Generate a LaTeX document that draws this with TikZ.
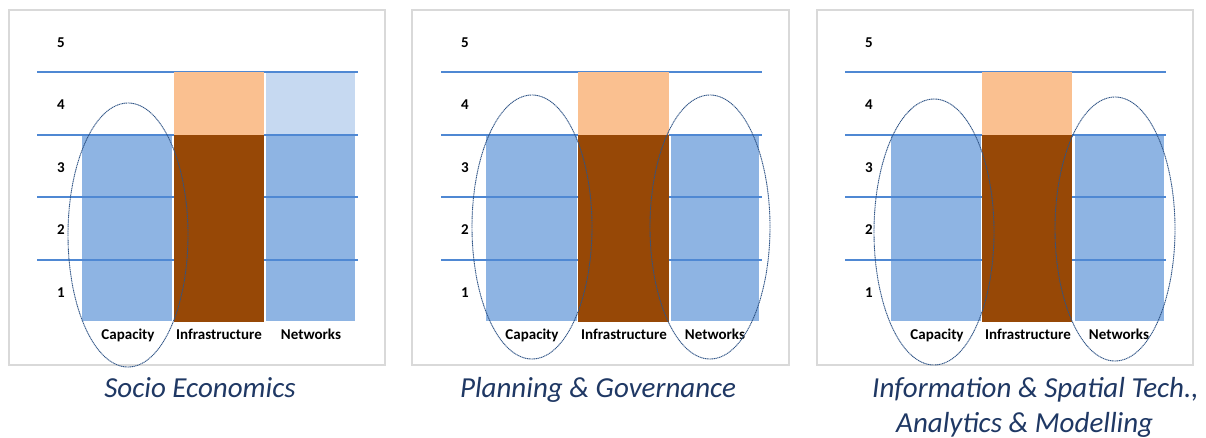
\documentclass[tikz,border=0pt]{standalone}
\usepackage{fontspec}
\setmainfont{Carlito}
\definecolor{barblue}{HTML}{8EB4E3}
\definecolor{lightblue}{HTML}{C6D9F1}
\definecolor{infbrown}{HTML}{974806}
\definecolor{peach}{HTML}{FAC090}
\definecolor{lineblue}{HTML}{4F88D3}
\definecolor{framegray}{HTML}{D9D9D9}
\definecolor{captionblue}{HTML}{1F3864}
\definecolor{ellblue}{HTML}{2F5486}
\begin{document}
\begin{tikzpicture}[x=1pt,y=-1pt,
  frame/.style={draw=framegray,line width=2.4pt,fill=white},
  level/.style={draw=lineblue,line width=2.8pt},
  num/.style={font=\fontsize{15}{17}\selectfont\bfseries,anchor=base,inner sep=0pt},
  lab/.style={font=\fontsize{15}{17}\selectfont\bfseries,anchor=base,inner sep=0pt},
  captext/.style={font=\fontsize{29}{33}\selectfont\itshape,text=captionblue,inner sep=0pt},
  ell/.style={draw=ellblue,line width=0.9pt,dash pattern=on 1.2pt off 0.6pt}]
\useasboundingbox (0,0) rectangle (1206,437);
\fill[white] (0,0) rectangle (1206,437);

% Panel 1
\draw[frame] (9,10) rectangle (385,365);
\fill[barblue] (82,135) rectangle (172,321);
\fill[lightblue] (266,72) rectangle (355,135);
\fill[barblue] (266,135) rectangle (355,321);
\foreach \yy in {72,135,197,260} \draw[level] (37,\yy) -- (358,\yy);
\fill[peach] (174,72) rectangle (264,135);
\fill[infbrown] (174,135) rectangle (264,322);
\node[num] (p1n5) at (61,47) {5};
\node[num] (p1n4) at (61,109.5) {4};
\node[num] (p1n3) at (61,172) {3};
\node[num] (p1n2) at (61,234.5) {2};
\node[num] (p1n1) at (61,297) {1};
\node[lab] (p1cap) at (128,339) {Capacity};
\node[lab] (p1inf) at (219,339) {Infrastructure};
\node[lab] (p1net) at (311,339) {Networks};
\draw[ell] (128,235) ellipse [x radius=60,y radius=132];
\node[captext,anchor=base] (c1) at (200,397) {Socio Economics};

% Panel 2
\draw[frame] (412,10) rectangle (789,365);
\fill[barblue] (486,135) rectangle (577,321);
\fill[barblue] (671,135) rectangle (759,321);
\foreach \yy in {72,135,197,260} \draw[level] (441,\yy) -- (762,\yy);
\fill[peach] (578,72) rectangle (669,135);
\fill[infbrown] (578,135) rectangle (669,322);
\node[num] (p2n5) at (465,47) {5};
\node[num] (p2n4) at (465,109.5) {4};
\node[num] (p2n3) at (465,172) {3};
\node[num] (p2n2) at (465,234.5) {2};
\node[num] (p2n1) at (465,297) {1};
\node[lab] (p2cap) at (532,339) {Capacity};
\node[lab] (p2inf) at (624,339) {Infrastructure};
\node[lab] (p2net) at (715,339) {Networks};
\draw[ell] (532,227) ellipse [x radius=60,y radius=132];
\draw[ell] (710,227) ellipse [x radius=60,y radius=132];
\node[captext,anchor=base] (c2) at (598,397) {Planning \& Governance};

% Panel 3
\draw[frame] (817,10) rectangle (1193,365);
\fill[barblue] (891,135) rectangle (981,321);
\fill[barblue] (1075,135) rectangle (1164,321);
\foreach \yy in {72,135,197,260} \draw[level] (845,\yy) -- (1166,\yy);
\fill[peach] (982,72) rectangle (1072,135);
\fill[infbrown] (982,135) rectangle (1072,322);
\node[num] (p3n5) at (869,47) {5};
\node[num] (p3n4) at (869,109.5) {4};
\node[num] (p3n3) at (869,172) {3};
\node[num] (p3n2) at (869,234.5) {2};
\node[num] (p3n1) at (869,297) {1};
\node[lab] (p3cap) at (937,339) {Capacity};
\node[lab] (p3inf) at (1028,339) {Infrastructure};
\node[lab] (p3net) at (1119,339) {Networks};
\draw[ell] (934,232) ellipse [x radius=60,y radius=133];
\draw[ell] (1115,229) ellipse [x radius=60,y radius=132];
\node[captext,anchor=base west] (c3a) at (872,397) {Information \& Spatial Tech.,};
\node[captext,anchor=base west] (c3b) at (896,432) {Analytics \& Modelling};
\end{tikzpicture}
\end{document}
